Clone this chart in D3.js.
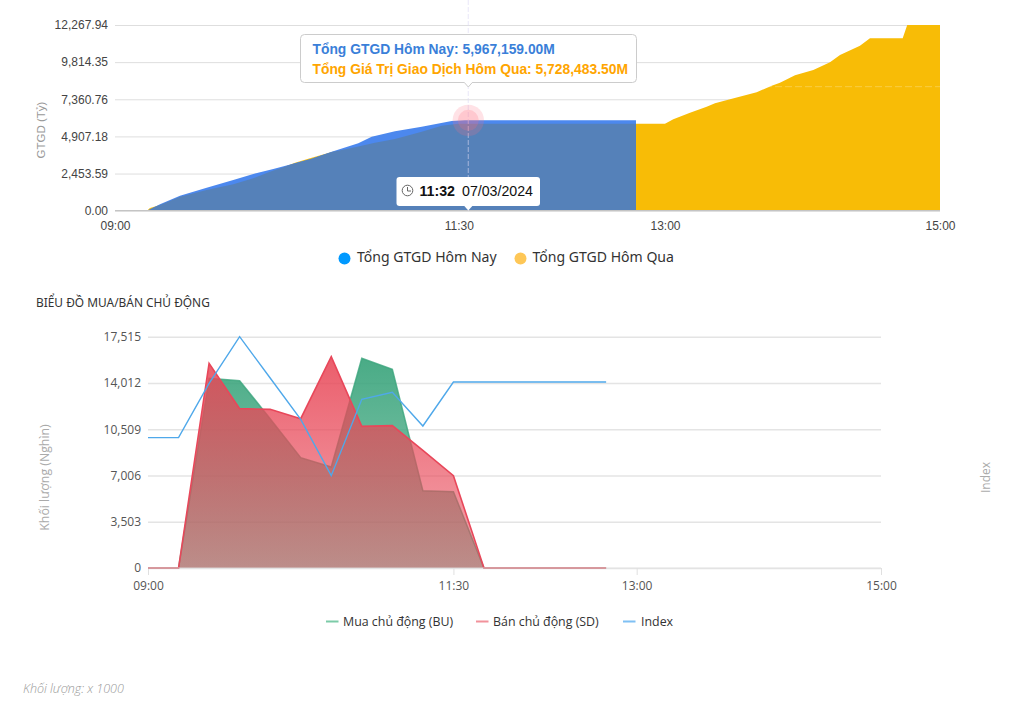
<!DOCTYPE html>
<html><head><meta charset="utf-8">
<script src="https://cdn.jsdelivr.net/npm/d3@7"></script>
<style>
html,body{margin:0;padding:0;background:#fff;}
svg{display:block;}
text{font-family:"Liberation Sans",Arial,sans-serif;}
.ns{font-family:"Noto Sans",sans-serif;}
.os{font-family:"Open Sans",sans-serif;}
</style></head><body>
<svg id="c" width="1024" height="709"></svg>
<script>
// ---------- top chart data ----------
const todayTimes = ["09:00:00","09:14:06","09:19:38","09:28:22","09:40:00","09:51:37","10:00:21","10:09:04","10:18:33","10:25:50","10:34:34","10:46:10","10:52:00","11:02:11","11:13:50","11:26:54","11:32:44","11:34:10","12:47:20"];
const todayValues = [0,0,421,989,1518,2026,2423,2753,3130,3434,3896,4451,4887,5244,5548,5925,5967,5967,5967];
const yesterdayTimes = ["09:00:00","09:13:58","09:15:16","09:19:38","09:28:22","09:40:00","09:51:37","10:00:21","10:07:38","10:13:26","10:18:33","10:25:50","10:34:34","10:44:44","10:53:27","11:02:11","11:13:50","11:22:34","11:29:48","13:00:00","13:03:38","13:10:55","13:18:11","13:21:49","13:28:22","13:40:00","13:46:34","13:50:11","13:54:33","13:56:44","14:04:43","14:12:00","14:16:22","14:25:05","14:29:27","14:43:43","14:45:42","15:00:00"];
const yesterdayValues = [0,0,176,375,923,1366,1742,2139,2575,2865,3169,3500,3880,4187,4491,4735,5218,5614,5750,5750,6037,6473,6869,7094,7358,7821,8257,8455,8785,8944,9294,9803,10285,10900,11389,11389,12267.94,12267.94];
const topYTicks = [0,2453.59,4907.18,7360.76,9814.35,12267.94];
const topXTicks = ["09:00","11:30","13:00","15:00"];
const hoverTime = "11:34:10";
const hoverLevel = 8193;
const topLegend = ["Tổng GTGD Hôm Nay","Tổng GTGD Hôm Qua"];
const tipLines = ["Tổng GTGD Hôm Nay: 5,967,159.00M","Tổng Giá Trị Giao Dịch Hôm Qua: 5,728,483.50M"];
// ---------- bottom chart data ----------
const flowTimes = ["09:00","09:15","09:30","09:45","10:00","10:15","10:30","10:45","11:00","11:15","11:30","11:45","12:00","12:15","12:30","12:45"];
const buValues = [0,0,14362,14185,11308,8354,7648,15876,15043,5856,5780,0,0,0,0,0];
const sdValues = [0,0,15497,12065,12014,11308,16002,10727,10777,8910,6991,0,0,0,0,0];
const indexValues = [9869,9869,13983,17515,14387,11257,6991,12771,13301,10752,14084,14084,14084,14084,14084,14084];
const botYTicks = [0,3503,7006,10509,14012,17515];
const botXTicks = ["09:00","11:30","13:00","15:00"];

const parseS = d3.timeParse("%H:%M:%S"), parseM = d3.timeParse("%H:%M");
const svg = d3.select("#c");
const defs = svg.append("defs");

// ===== top chart =====
const xT = d3.scaleTime().domain([parseM("09:00"),parseM("15:00")]).range([115,940]);
const yT = d3.scaleLinear().domain([0,12267.94]).range([210.67,25]);
const gT = svg.append("g");
gT.append("g").attr("transform","translate(115,0)")
  .call(d3.axisLeft(yT).tickValues(topYTicks).tickSize(-825).tickPadding(7).tickFormat(d3.format(",.2f")))
  .call(g=>g.select(".domain").remove())
  .call(g=>g.selectAll("line").attr("stroke","#dedede").attr("stroke-width",1))
  .call(g=>g.selectAll("text").attr("fill","#444").attr("font-size",12).attr("font-family","Liberation Sans"));
const today = todayTimes.map((t,i)=>({x:parseS(t),y:todayValues[i]}));
const yest = yesterdayTimes.map((t,i)=>({x:parseS(t),y:yesterdayValues[i]}));
const area = d3.area().x(d=>xT(d.x)).y0(yT(0)).y1(d=>yT(d.y));
gT.append("path").attr("d",area(yest)).attr("fill","#F8BC06");
gT.append("path").attr("d",area(today)).attr("fill","#4C88EE");
defs.append("clipPath").attr("id","todayClip").append("path").attr("d",area(today));
gT.append("path").attr("d",area(yest)).attr("fill","#5581B9").attr("clip-path","url(#todayClip)");
gT.append("line").attr("x1",115).attr("x2",940).attr("y1",yT(0)).attr("y2",yT(0)).attr("stroke","#c4c4c4").attr("stroke-width",1.2);
gT.append("g").attr("transform","translate(0,210.67)")
  .call(d3.axisBottom(xT).tickValues(topXTicks.map(parseM)).tickSize(0).tickPadding(11).tickFormat(d3.timeFormat("%H:%M")))
  .call(g=>g.select(".domain").remove())
  .call(g=>g.selectAll("text").attr("fill","#444").attr("font-size",12).attr("font-family","Liberation Sans"));
gT.append("text").attr("transform","translate(45,130) rotate(-90)").attr("text-anchor","middle").attr("fill","#999").attr("font-size",11.5).text("GTGD (Tỷ)");

// crosshair
const hx = xT(parseS(hoverTime)), hy = yT(todayValues[todayValues.length-1]);
gT.append("line").attr("x1",hx).attr("x2",hx).attr("y1",0).attr("y2",yT(0)).attr("stroke","#dcd8f4").attr("stroke-opacity",.5).attr("stroke-width",1.2).attr("stroke-dasharray","5 2");
gT.append("line").attr("x1",115).attr("x2",940).attr("y1",yT(hoverLevel)).attr("y2",yT(hoverLevel)).attr("stroke","#fff").attr("stroke-opacity",.25).attr("stroke-width",1).attr("stroke-dasharray","7 3");
gT.append("circle").attr("cx",hx).attr("cy",hy).attr("r",15.7).attr("fill","#ff6e80").attr("fill-opacity",.2);
gT.append("circle").attr("cx",hx).attr("cy",hy).attr("r",10.5).attr("fill","#ff6e80").attr("fill-opacity",.22);

// tooltip
const tip = gT.append("g");
tip.append("rect").attr("x",300.5).attr("y",34.5).attr("width",336).attr("height",48).attr("rx",4).attr("fill","#fff").attr("stroke","#ccc");
tip.append("path").attr("d",`M${hx-4},82.5 L${hx},87 L${hx+4},82.5`).attr("fill","#fff").attr("stroke","#ccc");
tip.append("rect").attr("x",hx-3.5).attr("y",81).attr("width",7).attr("height",2).attr("fill","#fff");
tip.append("text").attr("x",312.5).attr("y",54).attr("font-size",13.85).attr("font-weight",700).attr("fill","#3A7FD9").text(tipLines[0]);
tip.append("text").attr("x",312.5).attr("y",73.5).attr("font-size",13.85).attr("font-weight",700).attr("fill","#FFA500").text(tipLines[1]);

const tt = gT.append("g");
tt.append("rect").attr("x",396.5).attr("y",177).attr("width",143.5).attr("height",29).attr("rx",3).attr("fill","#fff");
tt.append("path").attr("d",`M${hx-4},206 L${hx},210.5 L${hx+4},206 Z`).attr("fill","#fff");
tt.append("circle").attr("cx",407.5).attr("cy",190.5).attr("r",5.3).attr("fill","none").attr("stroke","#666").attr("stroke-width",1);
tt.append("path").attr("d","M407.5,187 V191 H411").attr("fill","none").attr("stroke","#666").attr("stroke-width",1);
tt.append("text").attr("x",419.5).attr("y",196).attr("font-size",14.2).attr("font-weight",700).attr("fill","#111").text("11:32");
tt.append("text").attr("x",462).attr("y",196).attr("font-size",14.2).attr("fill","#111").text("07/03/2024");

// legend
[[344.5,"#0099FF",357],[520.5,"#FEC757",532.5]].forEach((l,i)=>{
  gT.append("circle").attr("cx",l[0]).attr("cy",258.5).attr("r",6).attr("fill",l[1]);
  gT.append("text").attr("class","ns").attr("x",l[2]).attr("y",262).attr("font-size",14.05).attr("fill","#333").text(topLegend[i]);
});

// ===== bottom chart =====
svg.append("text").attr("class","ns").attr("x",36).attr("y",307).attr("font-size",11.9).attr("fill","#333").text("BIỂU ĐỒ MUA/BÁN CHỦ ĐỘNG");
const xB = d3.scaleTime().domain([parseM("09:00"),parseM("15:00")]).range([148,881]);
const yB = d3.scaleLinear().domain([0,17515]).range([568,336.7]);
const gB = svg.append("g");
gB.append("g").attr("transform","translate(148,0)")
  .call(d3.axisLeft(yB).tickValues(botYTicks).tickSize(-733).tickPadding(7).tickFormat(d3.format(",")))
  .call(g=>g.select(".domain").remove())
  .call(g=>g.selectAll("line").attr("stroke","#e4e4e4").attr("stroke-width",1.4))
  .call(g=>g.selectAll("text").attr("class","os").attr("fill","#555").attr("font-size",12));
gB.append("g").attr("transform","translate(0,568)")
  .call(d3.axisBottom(xB).tickValues(botXTicks.map(parseM)).tickSize(7).tickPadding(6).tickFormat(d3.timeFormat("%H:%M")))
  .call(g=>g.select(".domain").remove())
  .call(g=>g.selectAll("line").attr("stroke","#e0e0e0"))
  .call(g=>g.selectAll("text").attr("class","os").attr("fill","#555").attr("font-size",12));

function grad(id,rgb,a0,a1){
  const g = defs.append("linearGradient").attr("id",id).attr("gradientUnits","userSpaceOnUse").attr("x1",0).attr("x2",0).attr("y1",336.7).attr("y2",568);
  g.append("stop").attr("offset",0).attr("stop-color",rgb).attr("stop-opacity",a0);
  g.append("stop").attr("offset",1).attr("stop-color",rgb).attr("stop-opacity",a1);
}
grad("gBU","rgb(60,165,125)",.97,.55);
grad("gSD","rgb(232,72,88)",.92,.48);
const flowX = d=>xB(parseM(d.t));
const areaB = d3.area().x(flowX).y0(yB(0)).y1(d=>yB(d.v));
const lineB = d3.line().x(flowX).y(d=>yB(d.v));
const bu = flowTimes.map((t,i)=>({t,v:buValues[i]}));
const sd = flowTimes.map((t,i)=>({t,v:sdValues[i]}));
const idx = flowTimes.map((t,i)=>({t,v:indexValues[i]}));
gB.append("path").attr("d",areaB(bu)).attr("fill","url(#gBU)");
gB.append("path").attr("d",lineB(bu)).attr("fill","none").attr("stroke","#3ca57d").attr("stroke-width",1.5).attr("stroke-opacity",.8);
gB.append("path").attr("d",areaB(sd)).attr("fill","url(#gSD)");
gB.append("path").attr("d",lineB(sd)).attr("fill","none").attr("stroke","#e8475a").attr("stroke-width",1.6);
gB.append("line").attr("x1",148).attr("x2",881).attr("y1",yB(0)).attr("y2",yB(0)).attr("stroke","#e4e4e4").attr("stroke-width",1.4).attr("stroke-opacity",.55);
gB.append("path").attr("d",lineB(idx)).attr("fill","none").attr("stroke","#4fa8ea").attr("stroke-width",1.4);

gB.append("text").attr("class","os").attr("transform","translate(49,477.5) rotate(-90)").attr("text-anchor","middle").attr("fill","#aaa").attr("font-size",12.3).text("Khối lượng (Nghìn)");
gB.append("text").attr("class","os").attr("transform","translate(990,477.5) rotate(-90)").attr("text-anchor","middle").attr("fill","#aaa").attr("font-size",12).text("Index");

const botLegend = ["Mua chủ động (BU)","Bán chủ động (SD)","Index"];
[[326,"#7ccba8",343],[476,"#f2929b",493],[623,"#7fc0f4",641]].forEach((l,i)=>{
  gB.append("rect").attr("x",l[0]).attr("y",620.5).attr("width",12.5).attr("height",2).attr("fill",l[1]);
  gB.append("text").attr("class","os").attr("x",l[2]).attr("y",625.5).attr("font-size",12.4).attr("fill","#333").text(botLegend[i]);
});
svg.append("text").attr("class","os").attr("x",23).attr("y",692.5).attr("font-size",12.5).attr("font-style","italic").attr("font-weight",300).attr("fill","#999").text("Khối lượng: x 1000");
</script>
</body></html>
